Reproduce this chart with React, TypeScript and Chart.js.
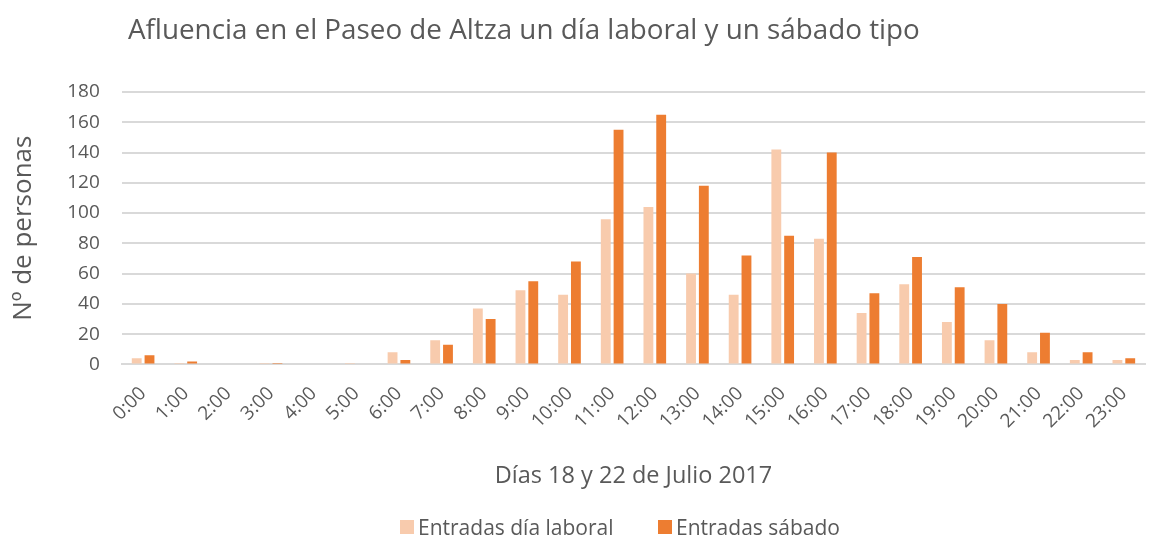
import React, { useEffect, useRef } from "react";
import { Chart, registerables } from "chart.js";

Chart.register(...registerables);

const categories = ["0:00","1:00","2:00","3:00","4:00","5:00","6:00","7:00","8:00","9:00","10:00","11:00","12:00","13:00","14:00","15:00","16:00","17:00","18:00","19:00","20:00","21:00","22:00","23:00"];
const laboral = [4, 1, 0, 1, 0, 1, 8, 16, 37, 49, 46, 96, 104, 60, 46, 142, 83, 34, 53, 28, 16, 8, 3, 3];
const sabado = [6, 2, 0, 1, 0, 0, 3, 13, 30, 55, 68, 155, 165, 118, 72, 85, 140, 47, 71, 51, 40, 21, 8, 4];

const titleText = "Afluencia en el Paseo de Altza un día laboral y un sábado tipo";
const yTitle = "Nº de personas";
const xTitle = "Días 18 y 22 de Julio 2017";
const seriesNames = ["Entradas día laboral", "Entradas sábado"];
const seriesColors = ["#F8CBAD", "#ED7D31"];

const FONT = "'Open Sans', sans-serif";
const GREY = "#595959";

const titlePlugin = {
  id: "leftTitle",
  afterDraw(chart: any) {
    const ctx = chart.ctx;
    ctx.save();
    ctx.font = `27.8px ${FONT}`;
    ctx.fillStyle = GREY;
    ctx.textBaseline = "middle";
    ctx.textAlign = "left";
    ctx.fillText(titleText, 128, 31);
    ctx.restore();
  },
};

export default function App() {
  const ref = useRef<HTMLCanvasElement>(null);
  useEffect(() => {
    if (!ref.current) return;
    const chart = new Chart(ref.current, {
      type: "bar",
      data: {
        labels: categories,
        datasets: [
          { label: seriesNames[0], data: laboral, backgroundColor: seriesColors[0], categoryPercentage: 0.6, barPercentage: 0.77 },
          { label: seriesNames[1], data: sabado, backgroundColor: seriesColors[1], categoryPercentage: 0.6, barPercentage: 0.77 },
        ],
      },
      options: {
        responsive: true,
        maintainAspectRatio: false,
        animation: false,
        layout: { padding: { top: 92, right: 2, left: 4, bottom: 48 } },
        plugins: {
          title: { display: false },
          tooltip: { enabled: false },
          legend: { display: false },
        },
        scales: {
          x: {
            grid: { display: false },
            border: { color: "#d9d9d9", width: 2 },
            ticks: {
              color: GREY,
              font: { family: FONT, size: 19 },
              minRotation: 45,
              maxRotation: 45,
              autoSkip: false,
              padding: 10,
            },
            title: {
              display: true,
              text: xTitle,
              color: GREY,
              font: { family: FONT, size: 23.5 },
              padding: { top: 19, bottom: 0 },
            },
          },
          y: {
            min: 0,
            max: 180,
            ticks: {
              stepSize: 20,
              color: GREY,
              font: { family: FONT, size: 19 },
              padding: 22,
            },
            grid: { color: "#d9d9d9", lineWidth: 2, drawTicks: false },
            border: { display: false },
            title: {
              display: true,
              text: yTitle,
              color: GREY,
              font: { family: FONT, size: 26 },
              padding: { bottom: 6 },
            },
          },
        },
      },
      plugins: [titlePlugin],
    });
    return () => chart.destroy();
  }, []);
  const legendItem = (i: number, left: number) => (
    <div key={i} style={{ position: "absolute", left, top: 513, height: 28, display: "flex", alignItems: "center" }}>
      <span style={{ display: "inline-block", width: 14, height: 14, background: seriesColors[i], marginRight: 4 }} />
      <span style={{ fontFamily: FONT, fontSize: 21, color: GREY, lineHeight: "28px", whiteSpace: "nowrap" }}>{seriesNames[i]}</span>
    </div>
  );
  return (
    <div style={{ position: "absolute", left: 0, top: 0, width: 1150, height: 538, background: "#fff" }}>
      <canvas ref={ref} />
      {legendItem(0, 400)}
      {legendItem(1, 658)}
    </div>
  );
}
